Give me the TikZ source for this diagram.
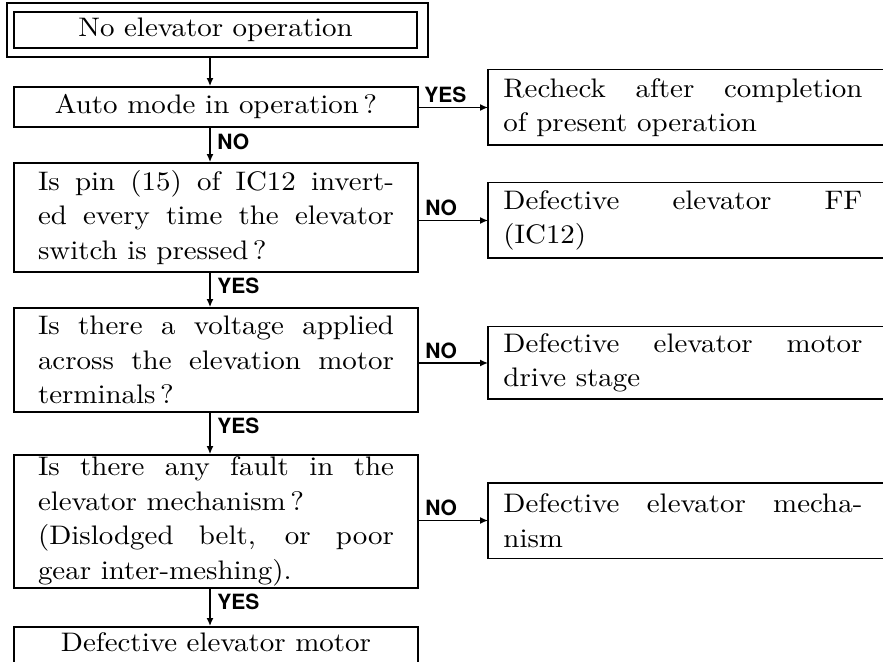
\documentclass[tikz,border=0pt]{standalone}
\usepackage{fontspec}
\setmainfont{lmroman10-regular}[Extension=.otf, FakeStretch=1.08]
\newfontfamily\lblfont{TeX Gyre Heros}
\usetikzlibrary{arrows.meta,calc}
\newcommand{\ltext}[1]{\parbox{178pt}{\hyphenpenalty=10000\relax #1}}
\newcommand{\rtext}[1]{\makebox[216pt][l]{\hspace*{7.5pt}\parbox{179.5pt}{\hyphenpenalty=10000\relax #1}}}
\begin{document}
\begin{tikzpicture}[x=0.5pt,y=-0.5pt,
  txt/.style={font=\fontsize{13.4pt}{17.25pt}\selectfont},
  box/.style={txt, draw, line width=0.9pt, inner sep=0pt, minimum width=202pt},
  rbox/.style={txt, inner sep=0pt, anchor=west},
  frame/.style={line width=0.9pt},
  arr/.style={line width=0.7pt, -{Latex[length=4pt,width=3.5pt]}},
  lbl/.style={font=\lblfont\bfseries\fontsize{10.5pt}{12pt}\selectfont, inner sep=0pt}]
\useasboundingbox (0,0) rectangle (883,662);
\clip (0,0) rectangle (883,662);
\fill[white] (0,0) rectangle (883,662);
\coordinate (xcol) at (210,0);

% left column
\node[box, minimum width=201.5pt, minimum height=18pt] (start) at (215.5,30) {No elevator operation};
\coordinate (fr1) at ($(start.north west)+(-6,-8)$);
\coordinate (fr2) at ($(start.south east)+(10,8)$);
\draw[frame] (fr1) rectangle (fr2);

\node[box, minimum height=20pt] (auto) at (216,107) {Auto mode in operation\,?};
\node[box, minimum height=54.5pt] (pin) at (216,217.5)
  {\ltext{Is pin (15) of IC12 invert-\linebreak ed every time the elevator\linebreak switch is pressed\,?}};
\node[box, minimum height=52pt] (volt) at (216,360)
  {\ltext{Is there a voltage applied\linebreak across the elevation motor\linebreak terminals\,?}};
\node[box, minimum height=66.5pt] (fault) at (216,521.5)
  {\ltext{Is there any fault in the\linebreak elevator mechanism\,?\newline (Dislodged belt, or poor\linebreak gear inter-meshing).}};
\node[box, anchor=north, text height=9.2pt, text depth=22pt, inner ysep=3pt] (last) at (216,626) {Defective elevator motor};

% right column
\node[rbox, minimum height=37.5pt] (r1) at (488,107.5) {\rtext{Recheck after completion\linebreak of present operation}};
\node[rbox, minimum height=37.5pt] (r2) at (488,220.5) {\rtext{Defective elevator FF\linebreak (IC12)}};
\node[rbox, minimum height=36pt] (r3) at (488,363) {\rtext{Defective elevator motor\linebreak drive stage}};
\node[rbox, minimum height=37.5pt] (r4) at (488,520.5) {\rtext{Defective elevator mecha-\linebreak nism}};
\foreach \r in {r1,r2,r3,r4}{
  \draw[frame] ([xshift=30pt]\r.north east) -- (\r.north west) -- (\r.south west) -- ([xshift=30pt]\r.south east);
}

% vertical connectors
\draw[arr] (fr2 -| xcol) -- (auto.north -| xcol);
\draw[arr] (auto.south -| xcol) -- (pin.north -| xcol);
\draw[arr] (pin.south -| xcol) -- (volt.north -| xcol);
\draw[arr] (volt.south -| xcol) -- (fault.north -| xcol);
\draw[arr] (fault.south -| xcol) -- (last.north -| xcol);
\node[lbl, anchor=north west] (n1) at ($(auto.south -| xcol)+(7,6)$) {NO};
\node[lbl, anchor=north west] (y1) at ($(pin.south -| xcol)+(7,5)$) {YES};
\node[lbl, anchor=north west] (y2) at ($(volt.south -| xcol)+(7,5)$) {YES};
\node[lbl, anchor=north west] (y3) at ($(fault.south -| xcol)+(7,5)$) {YES};

% horizontal connectors
\draw[arr] (auto.east |- r1.west) -- (r1.west);
\draw[arr] (pin.east |- r2.west) -- (r2.west);
\draw[arr] (volt.east |- r3.west) -- (r3.west);
\draw[arr] (fault.east |- r4.west) -- (r4.west);
\node[lbl, anchor=south west] (y0) at ($(auto.east |- r1.west)+(5,-4)$) {YES};
\node[lbl, anchor=south west] (n2) at ($(pin.east |- r2.west)+(6,-4)$) {NO};
\node[lbl, anchor=south west] (n3) at ($(volt.east |- r3.west)+(6,-4)$) {NO};
\node[lbl, anchor=south west] (n4) at ($(fault.east |- r4.west)+(6,-4)$) {NO};
\end{tikzpicture}
\end{document}
